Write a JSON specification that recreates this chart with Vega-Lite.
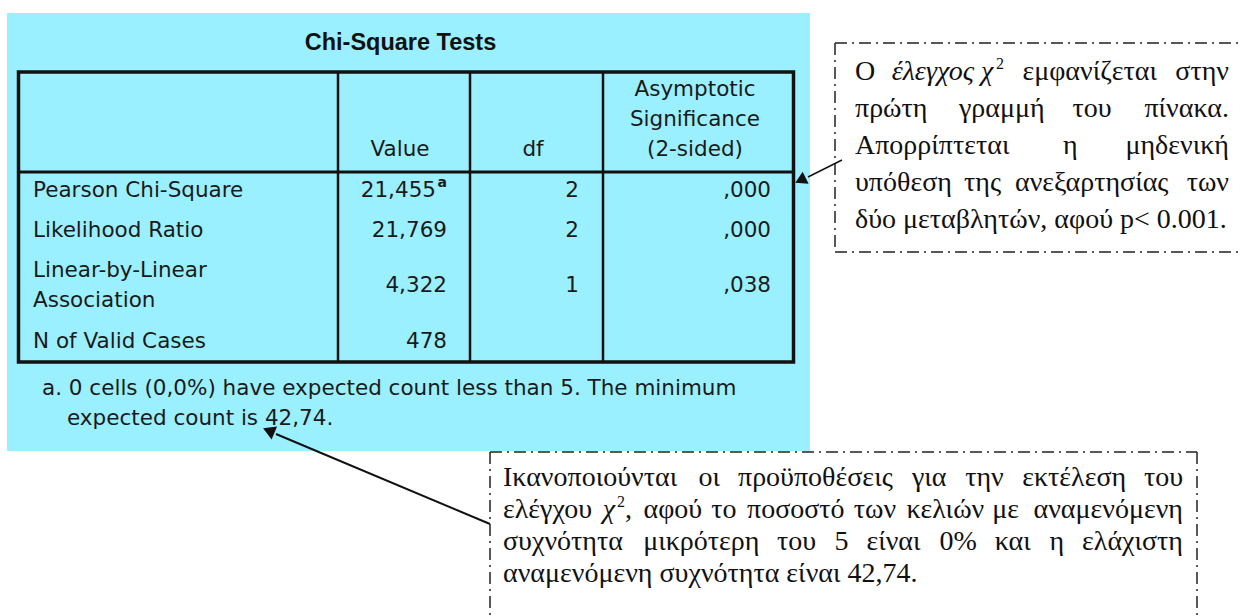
{
"$schema":"https://vega.github.io/schema/vega-lite/v6.json",
"width":1242,"height":616,
"autosize":{"type":"fit","contains":"padding"},
"padding":0,
"background":"#ffffff",
"config":{"view":{"stroke":null},"axis":{"disable":true},"text":{"baseline":"alphabetic","color":"#111111"}},
"datasets":{
"tests":[
{"row":1,"test":"Pearson Chi-Square","value":"21,455","note":"a","df":"2","sig":",000"},
{"row":2,"test":"Likelihood Ratio","value":"21,769","note":"","df":"2","sig":",000"},
{"row":3,"test":"Linear-by-Linear\nAssociation","value":"4,322","note":"","df":"1","sig":",038"},
{"row":4,"test":"N of Valid Cases","value":"478","note":"","df":"","sig":""}
],
"texts":[
{"id":"title","text":"Chi-Square Tests"},
{"id":"hValue","text":"Value"},
{"id":"hDf","text":"df"},
{"id":"hSig","text":"Asymptotic\nSignificance\n(2-sided)"},
{"id":"foot1","text":"a. 0 cells (0,0%) have expected count less than 5. The minimum"},
{"id":"foot2","text":"expected count is 42,74."},
{"id":"c1","text":"Ο"},{"id":"c2","text":"έλεγχος χ"},{"id":"c3","text":"2"},{"id":"c4","text":"εμφανίζεται"},{"id":"c5","text":"στην"},
{"id":"c6","text":"πρώτη"},{"id":"c7","text":"γραμμή"},{"id":"c8","text":"του"},{"id":"c9","text":"πίνακα."},
{"id":"c10","text":"Απορρίπτεται"},{"id":"c11","text":"η"},{"id":"c12","text":"μηδενική"},
{"id":"c13","text":"υπόθεση"},{"id":"c14","text":"της"},{"id":"c15","text":"ανεξαρτησίας"},{"id":"c16","text":"των"},
{"id":"c17","text":"δύο μεταβλητών, αφού p< 0.001."},
{"id":"d1","text":"Ικανοποιούνται"},{"id":"d2","text":"οι"},{"id":"d3","text":"προϋποθέσεις"},{"id":"d4","text":"για"},{"id":"d5","text":"την"},{"id":"d6","text":"εκτέλεση"},{"id":"d7","text":"του"},
{"id":"d8","text":"ελέγχου"},{"id":"d9","text":"χ"},{"id":"d10","text":"2"},{"id":"d11","text":","},{"id":"d12","text":"αφού"},{"id":"d13","text":"το"},{"id":"d14","text":"ποσοστό"},{"id":"d15","text":"των"},{"id":"d16","text":"κελιών"},{"id":"d17","text":"με"},{"id":"d18","text":"αναμενόμενη"},
{"id":"d19","text":"συχνότητα"},{"id":"d20","text":"μικρότερη"},{"id":"d21","text":"του"},{"id":"d22","text":"5"},{"id":"d23","text":"είναι"},{"id":"d24","text":"0%"},{"id":"d25","text":"και"},{"id":"d26","text":"η"},{"id":"d27","text":"ελάχιστη"},
{"id":"d28","text":"αναμενόμενη συχνότητα είναι 42,74."}
]
},
"layer":[
{"layer":[
{"data":{"values":[{"part":"panel"}]},"mark":{"type":"rect","fill":"#9AF0FE"},
 "encoding":{"x":{"datum":7,"type":"quantitative","scale":{"domain":[0,1242],"nice":false,"zero":false}},"x2":{"datum":810},
 "y":{"datum":13,"type":"quantitative","scale":{"domain":[0,616],"nice":false,"zero":false,"reverse":true}},"y2":{"datum":451}}},
{"data":{"values":[{"part":"table border"}]},"mark":{"type":"rect","fill":null,"stroke":"#111111","strokeWidth":3.5},
 "encoding":{"x":{"datum":18.5,"type":"quantitative"},"x2":{"datum":793.5},"y":{"datum":72,"type":"quantitative"},"y2":{"datum":362}}},
{"data":{"values":[{"part":"column rule"}]},"mark":{"type":"rule","color":"#111111","strokeWidth":2.5},
 "encoding":{"x":{"datum":338,"type":"quantitative"},"y":{"datum":72,"type":"quantitative"},"y2":{"datum":362}}},
{"data":{"values":[{"part":"column rule"}]},"mark":{"type":"rule","color":"#111111","strokeWidth":2.5},
 "encoding":{"x":{"datum":470,"type":"quantitative"},"y":{"datum":72,"type":"quantitative"},"y2":{"datum":362}}},
{"data":{"values":[{"part":"column rule"}]},"mark":{"type":"rule","color":"#111111","strokeWidth":2.5},
 "encoding":{"x":{"datum":603,"type":"quantitative"},"y":{"datum":72,"type":"quantitative"},"y2":{"datum":362}}},
{"data":{"values":[{"part":"header rule"}]},"mark":{"type":"rule","color":"#111111","strokeWidth":3},
 "encoding":{"x":{"datum":18.5,"type":"quantitative"},"x2":{"datum":793.5},"y":{"datum":172,"type":"quantitative"}}},
{"data":{"values":[{"part":"note box 1 top"}]},"mark":{"type":"rule","color":"#222222","strokeWidth":1.5,"strokeDash":[12,5,2,5],"clip":true},
 "encoding":{"x":{"datum":835,"type":"quantitative"},"x2":{"datum":1242},"y":{"datum":43,"type":"quantitative"}}},
{"data":{"values":[{"part":"note box 1 bottom"}]},"mark":{"type":"rule","color":"#222222","strokeWidth":1.5,"strokeDash":[12,5,2,5],"clip":true},
 "encoding":{"x":{"datum":835,"type":"quantitative"},"x2":{"datum":1242},"y":{"datum":252,"type":"quantitative"}}},
{"data":{"values":[{"part":"note box 1 left"}]},"mark":{"type":"rule","color":"#222222","strokeWidth":1.5,"strokeDash":[12,5,2,5]},
 "encoding":{"x":{"datum":835,"type":"quantitative"},"y":{"datum":43,"type":"quantitative"},"y2":{"datum":252}}},
{"data":{"values":[{"part":"note box 2 top"}]},"mark":{"type":"rule","color":"#222222","strokeWidth":1.5,"strokeDash":[12,5,2,5]},
 "encoding":{"x":{"datum":490,"type":"quantitative"},"x2":{"datum":1197},"y":{"datum":452,"type":"quantitative"}}},
{"data":{"values":[{"part":"note box 2 left"}]},"mark":{"type":"rule","color":"#222222","strokeWidth":1.5,"strokeDash":[12,5,2,5],"clip":true},
 "encoding":{"x":{"datum":490,"type":"quantitative"},"y":{"datum":452,"type":"quantitative"},"y2":{"datum":616}}},
{"data":{"values":[{"part":"note box 2 right"}]},"mark":{"type":"rule","color":"#222222","strokeWidth":1.5,"strokeDash":[12,5,2,5],"clip":true},
 "encoding":{"x":{"datum":1197,"type":"quantitative"},"y":{"datum":452,"type":"quantitative"},"y2":{"datum":616}}},
{"data":{"values":[{"part":"arrow 1"}]},"mark":{"type":"rule","color":"#111111","strokeWidth":1.5},
 "encoding":{"x":{"datum":842,"type":"quantitative"},"x2":{"datum":808},"y":{"datum":160,"type":"quantitative"},"y2":{"datum":177}}},
{"data":{"values":[{"part":"arrow 1 head"}]},"mark":{"type":"point","shape":"triangle","filled":true,"color":"#111111","opacity":1,"size":180,"angle":243.4},
 "encoding":{"x":{"datum":802.2,"type":"quantitative"},"y":{"datum":179.4,"type":"quantitative"}}},
{"data":{"values":[{"part":"arrow 2"}]},"mark":{"type":"rule","color":"#111111","strokeWidth":2},
 "encoding":{"x":{"datum":490,"type":"quantitative"},"x2":{"datum":276},"y":{"datum":524,"type":"quantitative"},"y2":{"datum":434}}},
{"data":{"values":[{"part":"arrow 2 head"}]},"mark":{"type":"point","shape":"triangle","filled":true,"color":"#111111","opacity":1,"size":200,"angle":292.9},
 "encoding":{"x":{"datum":270.6,"type":"quantitative"},"y":{"datum":431.4,"type":"quantitative"}}},

{"data":{"name":"texts"},"transform":[{"filter":"datum.id=='title'"}],"mark":{"type":"text","align":"center","font":"Liberation Sans","fontWeight":"bold","fontSize":23.5},
 "encoding":{"x":{"datum":400.5,"type":"quantitative"},"y":{"datum":50,"type":"quantitative"},"text":{"field":"text"}}},
{"data":{"name":"texts"},"transform":[{"filter":"datum.id=='hValue'"}],"mark":{"type":"text","align":"center","font":"DejaVu Sans","fontSize":21.5,"color":"#1a1a1a"},
 "encoding":{"x":{"datum":400,"type":"quantitative"},"y":{"datum":156,"type":"quantitative"},"text":{"field":"text"}}},
{"data":{"name":"texts"},"transform":[{"filter":"datum.id=='hDf'"}],"mark":{"type":"text","align":"center","font":"DejaVu Sans","fontSize":21.5,"color":"#1a1a1a"},
 "encoding":{"x":{"datum":533,"type":"quantitative"},"y":{"datum":156,"type":"quantitative"},"text":{"field":"text"}}},
{"data":{"name":"texts"},"transform":[{"filter":"datum.id=='hSig'"}],"mark":{"type":"text","align":"center","font":"DejaVu Sans","fontSize":21.5,"color":"#1a1a1a","lineBreak":"\n","lineHeight":30},
 "encoding":{"x":{"datum":695,"type":"quantitative"},"y":{"datum":96,"type":"quantitative"},"text":{"field":"text"}}},
{"data":{"name":"texts"},"transform":[{"filter":"datum.id=='foot1'"}],"mark":{"type":"text","align":"left","font":"DejaVu Sans","fontSize":21.5,"color":"#1a1a1a"},
 "encoding":{"x":{"datum":42,"type":"quantitative"},"y":{"datum":395,"type":"quantitative"},"text":{"field":"text"}}},
{"data":{"name":"texts"},"transform":[{"filter":"datum.id=='foot2'"}],"mark":{"type":"text","align":"left","font":"DejaVu Sans","fontSize":21.5,"color":"#1a1a1a"},
 "encoding":{"x":{"datum":67,"type":"quantitative"},"y":{"datum":425,"type":"quantitative"},"text":{"field":"text"}}},

{"data":{"name":"texts"},"transform":[{"filter":"datum.id=='c1'"}],"mark":{"type":"text","align":"left","font":"Liberation Serif","fontSize":28},"encoding":{"x":{"datum":855,"type":"quantitative"},"y":{"datum":80,"type":"quantitative"},"text":{"field":"text"}}},
{"data":{"name":"texts"},"transform":[{"filter":"datum.id=='c2'"}],"mark":{"type":"text","align":"left","font":"Liberation Serif","fontStyle":"italic","fontSize":28},"encoding":{"x":{"datum":891.7,"type":"quantitative"},"y":{"datum":80,"type":"quantitative"},"text":{"field":"text"}}},
{"data":{"name":"texts"},"transform":[{"filter":"datum.id=='c3'"}],"mark":{"type":"text","align":"left","font":"Liberation Serif","fontSize":16},"encoding":{"x":{"datum":996,"type":"quantitative"},"y":{"datum":69,"type":"quantitative"},"text":{"field":"text"}}},
{"data":{"name":"texts"},"transform":[{"filter":"datum.id=='c4'"}],"mark":{"type":"text","align":"left","font":"Liberation Serif","fontSize":28},"encoding":{"x":{"datum":1022.4,"type":"quantitative"},"y":{"datum":80,"type":"quantitative"},"text":{"field":"text"}}},
{"data":{"name":"texts"},"transform":[{"filter":"datum.id=='c5'"}],"mark":{"type":"text","align":"right","font":"Liberation Serif","fontSize":28},"encoding":{"x":{"datum":1229,"type":"quantitative"},"y":{"datum":80,"type":"quantitative"},"text":{"field":"text"}}},
{"data":{"name":"texts"},"transform":[{"filter":"datum.id=='c6'"}],"mark":{"type":"text","align":"left","font":"Liberation Serif","fontSize":28},"encoding":{"x":{"datum":855,"type":"quantitative"},"y":{"datum":117,"type":"quantitative"},"text":{"field":"text"}}},
{"data":{"name":"texts"},"transform":[{"filter":"datum.id=='c7'"}],"mark":{"type":"text","align":"left","font":"Liberation Serif","fontSize":28},"encoding":{"x":{"datum":958.9,"type":"quantitative"},"y":{"datum":117,"type":"quantitative"},"text":{"field":"text"}}},
{"data":{"name":"texts"},"transform":[{"filter":"datum.id=='c8'"}],"mark":{"type":"text","align":"left","font":"Liberation Serif","fontSize":28},"encoding":{"x":{"datum":1072.5,"type":"quantitative"},"y":{"datum":117,"type":"quantitative"},"text":{"field":"text"}}},
{"data":{"name":"texts"},"transform":[{"filter":"datum.id=='c9'"}],"mark":{"type":"text","align":"right","font":"Liberation Serif","fontSize":28},"encoding":{"x":{"datum":1229,"type":"quantitative"},"y":{"datum":117,"type":"quantitative"},"text":{"field":"text"}}},
{"data":{"name":"texts"},"transform":[{"filter":"datum.id=='c10'"}],"mark":{"type":"text","align":"left","font":"Liberation Serif","fontSize":28},"encoding":{"x":{"datum":855,"type":"quantitative"},"y":{"datum":154,"type":"quantitative"},"text":{"field":"text"}}},
{"data":{"name":"texts"},"transform":[{"filter":"datum.id=='c11'"}],"mark":{"type":"text","align":"left","font":"Liberation Serif","fontSize":28},"encoding":{"x":{"datum":1063,"type":"quantitative"},"y":{"datum":154,"type":"quantitative"},"text":{"field":"text"}}},
{"data":{"name":"texts"},"transform":[{"filter":"datum.id=='c12'"}],"mark":{"type":"text","align":"right","font":"Liberation Serif","fontSize":28},"encoding":{"x":{"datum":1229,"type":"quantitative"},"y":{"datum":154,"type":"quantitative"},"text":{"field":"text"}}},
{"data":{"name":"texts"},"transform":[{"filter":"datum.id=='c13'"}],"mark":{"type":"text","align":"left","font":"Liberation Serif","fontSize":28},"encoding":{"x":{"datum":855,"type":"quantitative"},"y":{"datum":191,"type":"quantitative"},"text":{"field":"text"}}},
{"data":{"name":"texts"},"transform":[{"filter":"datum.id=='c14'"}],"mark":{"type":"text","align":"left","font":"Liberation Serif","fontSize":28},"encoding":{"x":{"datum":964,"type":"quantitative"},"y":{"datum":191,"type":"quantitative"},"text":{"field":"text"}}},
{"data":{"name":"texts"},"transform":[{"filter":"datum.id=='c15'"}],"mark":{"type":"text","align":"left","font":"Liberation Serif","fontSize":28},"encoding":{"x":{"datum":1015,"type":"quantitative"},"y":{"datum":191,"type":"quantitative"},"text":{"field":"text"}}},
{"data":{"name":"texts"},"transform":[{"filter":"datum.id=='c16'"}],"mark":{"type":"text","align":"right","font":"Liberation Serif","fontSize":28},"encoding":{"x":{"datum":1229,"type":"quantitative"},"y":{"datum":191,"type":"quantitative"},"text":{"field":"text"}}},
{"data":{"name":"texts"},"transform":[{"filter":"datum.id=='c17'"}],"mark":{"type":"text","align":"left","font":"Liberation Serif","fontSize":28},"encoding":{"x":{"datum":855,"type":"quantitative"},"y":{"datum":228,"type":"quantitative"},"text":{"field":"text"}}},

{"data":{"name":"texts"},"transform":[{"filter":"datum.id=='d1'"}],"mark":{"type":"text","align":"left","font":"Liberation Serif","fontSize":28},"encoding":{"x":{"datum":503,"type":"quantitative"},"y":{"datum":486,"type":"quantitative"},"text":{"field":"text"}}},
{"data":{"name":"texts"},"transform":[{"filter":"datum.id=='d2'"}],"mark":{"type":"text","align":"left","font":"Liberation Serif","fontSize":28},"encoding":{"x":{"datum":698.4,"type":"quantitative"},"y":{"datum":486,"type":"quantitative"},"text":{"field":"text"}}},
{"data":{"name":"texts"},"transform":[{"filter":"datum.id=='d3'"}],"mark":{"type":"text","align":"left","font":"Liberation Serif","fontSize":28},"encoding":{"x":{"datum":738,"type":"quantitative"},"y":{"datum":486,"type":"quantitative"},"text":{"field":"text"}}},
{"data":{"name":"texts"},"transform":[{"filter":"datum.id=='d4'"}],"mark":{"type":"text","align":"left","font":"Liberation Serif","fontSize":28},"encoding":{"x":{"datum":911.9,"type":"quantitative"},"y":{"datum":486,"type":"quantitative"},"text":{"field":"text"}}},
{"data":{"name":"texts"},"transform":[{"filter":"datum.id=='d5'"}],"mark":{"type":"text","align":"left","font":"Liberation Serif","fontSize":28},"encoding":{"x":{"datum":965.2,"type":"quantitative"},"y":{"datum":486,"type":"quantitative"},"text":{"field":"text"}}},
{"data":{"name":"texts"},"transform":[{"filter":"datum.id=='d6'"}],"mark":{"type":"text","align":"left","font":"Liberation Serif","fontSize":28},"encoding":{"x":{"datum":1022.2,"type":"quantitative"},"y":{"datum":486,"type":"quantitative"},"text":{"field":"text"}}},
{"data":{"name":"texts"},"transform":[{"filter":"datum.id=='d7'"}],"mark":{"type":"text","align":"right","font":"Liberation Serif","fontSize":28},"encoding":{"x":{"datum":1183,"type":"quantitative"},"y":{"datum":486,"type":"quantitative"},"text":{"field":"text"}}},
{"data":{"name":"texts"},"transform":[{"filter":"datum.id=='d8'"}],"mark":{"type":"text","align":"left","font":"Liberation Serif","fontSize":28},"encoding":{"x":{"datum":503,"type":"quantitative"},"y":{"datum":518,"type":"quantitative"},"text":{"field":"text"}}},
{"data":{"name":"texts"},"transform":[{"filter":"datum.id=='d9'"}],"mark":{"type":"text","align":"left","font":"Liberation Serif","fontStyle":"italic","fontSize":28},"encoding":{"x":{"datum":602.75,"type":"quantitative"},"y":{"datum":518,"type":"quantitative"},"text":{"field":"text"}}},
{"data":{"name":"texts"},"transform":[{"filter":"datum.id=='d10'"}],"mark":{"type":"text","align":"left","font":"Liberation Serif","fontSize":16},"encoding":{"x":{"datum":617,"type":"quantitative"},"y":{"datum":507,"type":"quantitative"},"text":{"field":"text"}}},
{"data":{"name":"texts"},"transform":[{"filter":"datum.id=='d11'"}],"mark":{"type":"text","align":"left","font":"Liberation Serif","fontSize":28},"encoding":{"x":{"datum":625,"type":"quantitative"},"y":{"datum":518,"type":"quantitative"},"text":{"field":"text"}}},
{"data":{"name":"texts"},"transform":[{"filter":"datum.id=='d12'"}],"mark":{"type":"text","align":"left","font":"Liberation Serif","fontSize":28},"encoding":{"x":{"datum":643.5,"type":"quantitative"},"y":{"datum":518,"type":"quantitative"},"text":{"field":"text"}}},
{"data":{"name":"texts"},"transform":[{"filter":"datum.id=='d13'"}],"mark":{"type":"text","align":"left","font":"Liberation Serif","fontSize":28},"encoding":{"x":{"datum":711.25,"type":"quantitative"},"y":{"datum":518,"type":"quantitative"},"text":{"field":"text"}}},
{"data":{"name":"texts"},"transform":[{"filter":"datum.id=='d14'"}],"mark":{"type":"text","align":"left","font":"Liberation Serif","fontSize":28},"encoding":{"x":{"datum":747,"type":"quantitative"},"y":{"datum":518,"type":"quantitative"},"text":{"field":"text"}}},
{"data":{"name":"texts"},"transform":[{"filter":"datum.id=='d15'"}],"mark":{"type":"text","align":"left","font":"Liberation Serif","fontSize":28},"encoding":{"x":{"datum":853.75,"type":"quantitative"},"y":{"datum":518,"type":"quantitative"},"text":{"field":"text"}}},
{"data":{"name":"texts"},"transform":[{"filter":"datum.id=='d16'"}],"mark":{"type":"text","align":"left","font":"Liberation Serif","fontSize":28},"encoding":{"x":{"datum":906.5,"type":"quantitative"},"y":{"datum":518,"type":"quantitative"},"text":{"field":"text"}}},
{"data":{"name":"texts"},"transform":[{"filter":"datum.id=='d17'"}],"mark":{"type":"text","align":"left","font":"Liberation Serif","fontSize":28},"encoding":{"x":{"datum":992.25,"type":"quantitative"},"y":{"datum":518,"type":"quantitative"},"text":{"field":"text"}}},
{"data":{"name":"texts"},"transform":[{"filter":"datum.id=='d18'"}],"mark":{"type":"text","align":"right","font":"Liberation Serif","fontSize":28},"encoding":{"x":{"datum":1183,"type":"quantitative"},"y":{"datum":518,"type":"quantitative"},"text":{"field":"text"}}},
{"data":{"name":"texts"},"transform":[{"filter":"datum.id=='d19'"}],"mark":{"type":"text","align":"left","font":"Liberation Serif","fontSize":28},"encoding":{"x":{"datum":503,"type":"quantitative"},"y":{"datum":550,"type":"quantitative"},"text":{"field":"text"}}},
{"data":{"name":"texts"},"transform":[{"filter":"datum.id=='d20'"}],"mark":{"type":"text","align":"left","font":"Liberation Serif","fontSize":28},"encoding":{"x":{"datum":643.2,"type":"quantitative"},"y":{"datum":550,"type":"quantitative"},"text":{"field":"text"}}},
{"data":{"name":"texts"},"transform":[{"filter":"datum.id=='d21'"}],"mark":{"type":"text","align":"left","font":"Liberation Serif","fontSize":28},"encoding":{"x":{"datum":776.9,"type":"quantitative"},"y":{"datum":550,"type":"quantitative"},"text":{"field":"text"}}},
{"data":{"name":"texts"},"transform":[{"filter":"datum.id=='d22'"}],"mark":{"type":"text","align":"left","font":"Liberation Serif","fontSize":28},"encoding":{"x":{"datum":834.6,"type":"quantitative"},"y":{"datum":550,"type":"quantitative"},"text":{"field":"text"}}},
{"data":{"name":"texts"},"transform":[{"filter":"datum.id=='d23'"}],"mark":{"type":"text","align":"left","font":"Liberation Serif","fontSize":28},"encoding":{"x":{"datum":866.4,"type":"quantitative"},"y":{"datum":550,"type":"quantitative"},"text":{"field":"text"}}},
{"data":{"name":"texts"},"transform":[{"filter":"datum.id=='d24'"}],"mark":{"type":"text","align":"left","font":"Liberation Serif","fontSize":28},"encoding":{"x":{"datum":939.6,"type":"quantitative"},"y":{"datum":550,"type":"quantitative"},"text":{"field":"text"}}},
{"data":{"name":"texts"},"transform":[{"filter":"datum.id=='d25'"}],"mark":{"type":"text","align":"left","font":"Liberation Serif","fontSize":28},"encoding":{"x":{"datum":994.7,"type":"quantitative"},"y":{"datum":550,"type":"quantitative"},"text":{"field":"text"}}},
{"data":{"name":"texts"},"transform":[{"filter":"datum.id=='d26'"}],"mark":{"type":"text","align":"left","font":"Liberation Serif","fontSize":28},"encoding":{"x":{"datum":1049.5,"type":"quantitative"},"y":{"datum":550,"type":"quantitative"},"text":{"field":"text"}}},
{"data":{"name":"texts"},"transform":[{"filter":"datum.id=='d27'"}],"mark":{"type":"text","align":"right","font":"Liberation Serif","fontSize":28},"encoding":{"x":{"datum":1183,"type":"quantitative"},"y":{"datum":550,"type":"quantitative"},"text":{"field":"text"}}},
{"data":{"name":"texts"},"transform":[{"filter":"datum.id=='d28'"}],"mark":{"type":"text","align":"left","font":"Liberation Serif","fontSize":28},"encoding":{"x":{"datum":503,"type":"quantitative"},"y":{"datum":582,"type":"quantitative"},"text":{"field":"text"}}}
]},
{"data":{"name":"tests"},
 "encoding":{"y":{"field":"row","type":"quantitative","scale":{"domain":[1,2,3,4],"range":[190.5,230.5,285.5,341.5],"zero":false,"nice":false}}},
 "layer":[
 {"transform":[{"filter":"datum.row != 3"}],"mark":{"type":"text","align":"left","baseline":"middle","font":"DejaVu Sans","fontSize":21.5,"color":"#1a1a1a"},
  "encoding":{"x":{"datum":33,"type":"quantitative"},"text":{"field":"test"}}},
 {"transform":[{"filter":"datum.row == 3"}],"mark":{"type":"text","align":"left","baseline":"middle","font":"DejaVu Sans","fontSize":21.5,"color":"#1a1a1a","lineBreak":"\n","lineHeight":30,"dy":-15},
  "encoding":{"x":{"datum":33,"type":"quantitative"},"text":{"field":"test"}}},
 {"transform":[{"filter":"datum.note == ''"}],"mark":{"type":"text","align":"right","baseline":"middle","font":"DejaVu Sans","fontSize":21.5,"color":"#1a1a1a"},
  "encoding":{"x":{"datum":447,"type":"quantitative"},"text":{"field":"value"}}},
 {"transform":[{"filter":"datum.note != ''"}],"mark":{"type":"text","align":"right","baseline":"middle","font":"DejaVu Sans","fontSize":21.5,"color":"#1a1a1a"},
  "encoding":{"x":{"datum":436,"type":"quantitative"},"text":{"field":"value"}}},
 {"transform":[{"filter":"datum.note != ''"}],"mark":{"type":"text","align":"right","baseline":"middle","font":"DejaVu Sans","fontSize":14,"fontWeight":"bold","color":"#1a1a1a","dy":-8},
  "encoding":{"x":{"datum":447,"type":"quantitative"},"text":{"field":"note"}}},
 {"mark":{"type":"text","align":"right","baseline":"middle","font":"DejaVu Sans","fontSize":21.5,"color":"#1a1a1a"},
  "encoding":{"x":{"datum":579,"type":"quantitative"},"text":{"field":"df"}}},
 {"mark":{"type":"text","align":"right","baseline":"middle","font":"DejaVu Sans","fontSize":21.5,"color":"#1a1a1a"},
  "encoding":{"x":{"datum":771,"type":"quantitative"},"text":{"field":"sig"}}}
 ]}
],
"resolve":{"scale":{"y":"independent"}}
}
